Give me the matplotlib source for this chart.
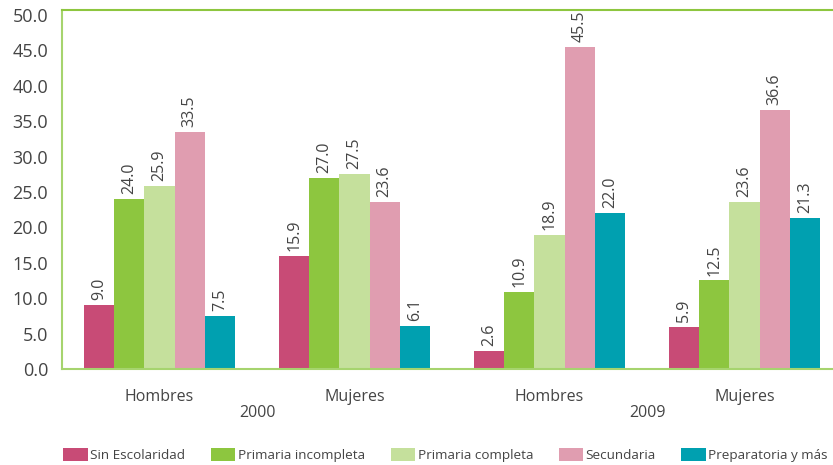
import matplotlib.pyplot as plt
from matplotlib.patches import Patch
import numpy as np

plt.rcParams['font.family'] = ['Open Sans', 'DejaVu Sans']

groups = ["Hombres", "Mujeres", "Hombres", "Mujeres"]
years = ["2000", "2009"]
series = ["Sin Escolaridad", "Primaria incompleta", "Primaria completa",
          "Secundaria", "Preparatoria y más"]
colors = ["#c84b76", "#8dc63f", "#c5e09c", "#e09db0", "#00a0b0"]

sin_escolaridad = [9.0, 15.9, 2.6, 5.9]
primaria_incompleta = [24.0, 27.0, 10.9, 12.5]
primaria_completa = [25.9, 27.5, 18.9, 23.6]
secundaria = [33.5, 23.6, 45.5, 36.6]
preparatoria = [7.5, 6.1, 22.0, 21.3]
values = [sin_escolaridad, primaria_incompleta, primaria_completa,
          secundaria, preparatoria]

fig = plt.figure(figsize=(8.33, 4.65), dpi=100)
ax = fig.add_axes([62/833, 96/465, 780/833, 359/465])

x = np.arange(len(groups))
w = 0.155
for i, (vals, c) in enumerate(zip(values, colors)):
    pos = x + (i - 2) * w
    ax.bar(pos, vals, width=w, color=c, zorder=2)
    for p, v in zip(pos, vals):
        ax.text(p, v + 0.7, f"{v:.1f}", rotation=90, ha='center', va='bottom',
                fontsize=11.5, color='#444444')

ax.set_xlim(-0.5, 3.5)
ax.set_ylim(0, 50.7)
ticks = np.arange(0, 50.1, 5)
ax.set_yticks(ticks)
ax.set_yticklabels([f"{t:.1f}" for t in ticks])
ax.tick_params(axis='y', length=0, labelsize=13, colors='#444444', pad=10)
ax.set_xticks([])

for s in ['left', 'bottom']:
    ax.spines[s].set_color('#a6d46e')
    ax.spines[s].set_linewidth(1.5)
ax.spines['top'].set_color('#8dc63f')
ax.spines['top'].set_linewidth(1.5)
ax.spines['right'].set_visible(False)

for xi, g in zip(x, groups):
    ax.text(xi, -3.9, g, ha='center', va='center', fontsize=11.5, color='#444444')
for k, yr in enumerate(years):
    ax.text(2 * k + 0.5, -6.2, yr, ha='center', va='center', fontsize=11.5,
            color='#444444')

handles = [Patch(facecolor=c) for c in colors]
fig.legend(handles, series, loc='center', bbox_to_anchor=(0.535, 10/465), ncol=5,
           frameon=False, fontsize=9.7, handlelength=1.8, handleheight=1.1,
           columnspacing=1.9, handletextpad=0.2, labelcolor='#444444')

fig.savefig("out.png", dpi=100)
